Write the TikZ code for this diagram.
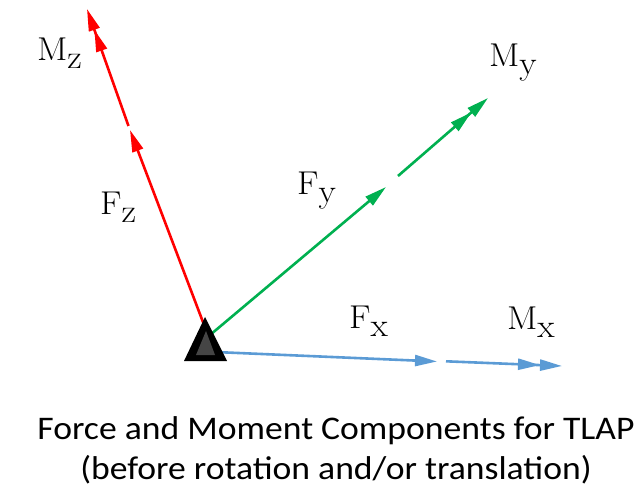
\documentclass[tikz,border=0pt]{standalone}
\usepackage{fontspec}
\newfontfamily\capfont{Carlito}
\usetikzlibrary{arrows.meta}
\definecolor{cred}{HTML}{FF0000}
\definecolor{cgreen}{HTML}{00B050}
\definecolor{cblue}{HTML}{5B9BD5}
\definecolor{tgray}{HTML}{454545}
\newcommand\comp[2]{\scalebox{1.08}[1]{#1\raisebox{-8pt}{#2}}}
\tikzset{
  vec/.style={line width=2.6pt, -{Triangle[length=22pt,width=11pt]}},
  dvec/.style={line width=2.6pt, -{Triangle[length=22pt,width=11pt] Triangle[length=22pt,width=11pt]}},
  lab/.style={anchor=base west, inner sep=0pt, font=\fontsize{33}{33}\selectfont},
  captext/.style={anchor=base, inner sep=0pt, font=\capfont\fontsize{33}{40}\selectfont}
}
\begin{document}
\begin{tikzpicture}[x=1pt,y=-1pt]
\useasboundingbox (0,0) rectangle (643,489);
% named points
\coordinate (Or) at (206,330);
\coordinate (Og) at (210,335);
\coordinate (Ob) at (215,352);
\coordinate (Fz) at (130,130);
\coordinate (Mz0) at (128.5,126);
\coordinate (Mz) at (87,9);
\coordinate (Fy) at (386,187);
\coordinate (My0) at (398,176);
\coordinate (My) at (488,98);
\coordinate (Fx) at (437,361.5);
\coordinate (Mx0) at (446,361.3);
\coordinate (Mx) at (562,366);
% vectors
\draw[vec, cred] (Or) -- (Fz);
\draw[dvec, cred] (Mz0) -- (Mz);
\draw[vec, cgreen] (Og) -- (Fy);
\draw[dvec, cgreen] (My0) -- (My);
\draw[vec, cblue] (Ob) -- (Fx);
\draw[dvec, cblue] (Mx0) -- (Mx);
% support triangle
\fill[black] (205,317) -- (184,361) -- (227,361) -- cycle;
\fill[tgray] (206,331) -- (196,355) -- (215,355) -- cycle;
% labels
\node[lab] (lMz) at (37,61) {\comp{M}{z}};
\node[lab] (lFz) at (100,215) {\comp{F}{z}};
\node[lab] (lFy) at (297,195) {\comp{F}{y}};
\node[lab] (lMy) at (489,67) {\comp{M}{y}};
\node[lab] (lFx) at (349,328) {\comp{F}{x}};
\node[lab] (lMx) at (507,330) {\comp{M}{x}};
% caption
\node[captext] (cap1) at (336,439) {\scalebox{1.08}[1]{Force and Moment Components for TLAP}};
\node[captext] (cap2) at (336,479) {\scalebox{1.08}[1]{(before rotation and/or translation)}};
\end{tikzpicture}
\end{document}
